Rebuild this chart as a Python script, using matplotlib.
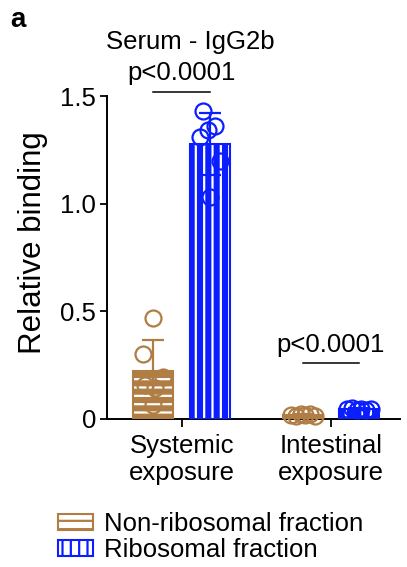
import numpy as np
import matplotlib
matplotlib.use("Agg")
import matplotlib.pyplot as plt
from matplotlib.patches import Patch

plt.rcParams['font.family'] = ['Liberation Sans', 'DejaVu Sans']
plt.rcParams['hatch.linewidth'] = 1.6

# Data
groups = ["Systemic\nexposure", "Intestinal\nexposure"]
series = ["Non-ribosomal fraction", "Ribosomal fraction"]
non_ribo_points = [
    [0.47, 0.30, 0.195, 0.16, 0.145, 0.065],
    [0.020, 0.015, 0.025, 0.018, 0.022, 0.012],
]
ribo_points = [
    [1.43, 1.36, 1.34, 1.31, 1.20, 1.03],
    [0.045, 0.050, 0.040, 0.048, 0.042, 0.046],
]
p_labels = ["p<0.0001", "p<0.0001"]
y_ticks = [0, 0.5, 1.0, 1.5]
y_tick_labels = ["0", "0.5", "1.0", "1.5"]

# jitter (in px) of the dots inside each bar
jitter_sys_nr = [0, -10, 10, -8, 2, 0]
jitter_sys_r = [-7, 5, -2, -10, 10, 0]
jitter_int = [-12, -7, -2, 2, 7, 12]

brown = "#B07D45"
blue = "#0A1EFF"
colors = [brown, blue]
hatches = ["--", "||"]

fig = plt.figure(figsize=(4.07, 5.67), dpi=100)
ax = fig.add_axes([107/407, 1 - 419/567, 293/407, 323/567])

px = 1/150.0  # one pixel in x data units
offsets = [-28.5*px, 28*px]
width = 40*px
x = np.arange(len(groups))

all_series = [non_ribo_points, ribo_points]
jitters = [[jitter_sys_nr, jitter_int], [jitter_sys_r, jitter_int]]

for s in range(2):
    pts = all_series[s]
    means = [np.mean(p) for p in pts]
    sds = [np.std(p, ddof=1) for p in pts]
    xs = x + offsets[s]
    # filled bar with white hatch lines
    ax.bar(xs, means, width, color=colors[s], edgecolor="white", hatch=hatches[s], linewidth=0, zorder=2)
    # outline
    ax.bar(xs, means, width, fill=False, edgecolor=colors[s], linewidth=1.5, zorder=3)
    ax.errorbar(xs, means, yerr=sds, fmt="none", ecolor=colors[s], elinewidth=1.6,
                capsize=8, capthick=1.6, zorder=4)
    for g in range(len(groups)):
        jx = xs[g] + np.array(jitters[s][g])*px
        ax.plot(jx, pts[g], "o", mfc="none", mec=colors[s], ms=11.5, mew=1.6, zorder=5, clip_on=False)

# significance annotations
p_heights = [1.52, 0.26]
for g in range(len(groups)):
    x0 = x[g] + offsets[0]
    x1 = x[g] + offsets[1]
    ax.plot([x0, x1], [p_heights[g], p_heights[g]], c="black", lw=1.1, clip_on=False)
    ax.text((x0 + x1)/2, p_heights[g] + 0.03, p_labels[g], ha="center", va="bottom", fontsize=18.5, clip_on=False)

ax.set_xlim(-0.5, 1.46)
ax.set_ylim(0, 1.5)
ax.set_yticks(y_ticks)
ax.set_yticklabels(y_tick_labels)
ax.set_xticks(x)
ax.set_xticklabels(groups, linespacing=1.15)
ax.tick_params(axis="both", direction="out", length=5, width=1.3, labelsize=18.5, pad=3)
ax.tick_params(axis="x", length=6, pad=5)
for side in ["top", "right"]:
    ax.spines[side].set_visible(False)
for side in ["left", "bottom"]:
    ax.spines[side].set_linewidth(1.4)

ax.set_ylabel("Relative binding", fontsize=22.5)
ax.yaxis.set_label_coords(-0.2, 0.545)

fig.text(190/407, 1 - 42/567, "Serum - IgG2b", ha="center", va="center", fontsize=18.5)
fig.text(10/407, 1 - 20/567, "a", ha="left", va="center", fontsize=20, fontweight="bold")

handles = [Patch(facecolor="white", edgecolor=colors[i], hatch=hatches[i], linewidth=1.5) for i in range(2)]
fig.legend(handles, series, loc="upper left", bbox_to_anchor=(58/407, 1 - 512/567), frameon=False,
           fontsize=18.5, handlelength=1.35, handleheight=0.55, handletextpad=0.45, labelspacing=0.08,
           borderpad=0, borderaxespad=0)

fig.savefig("out.png", dpi=100)
